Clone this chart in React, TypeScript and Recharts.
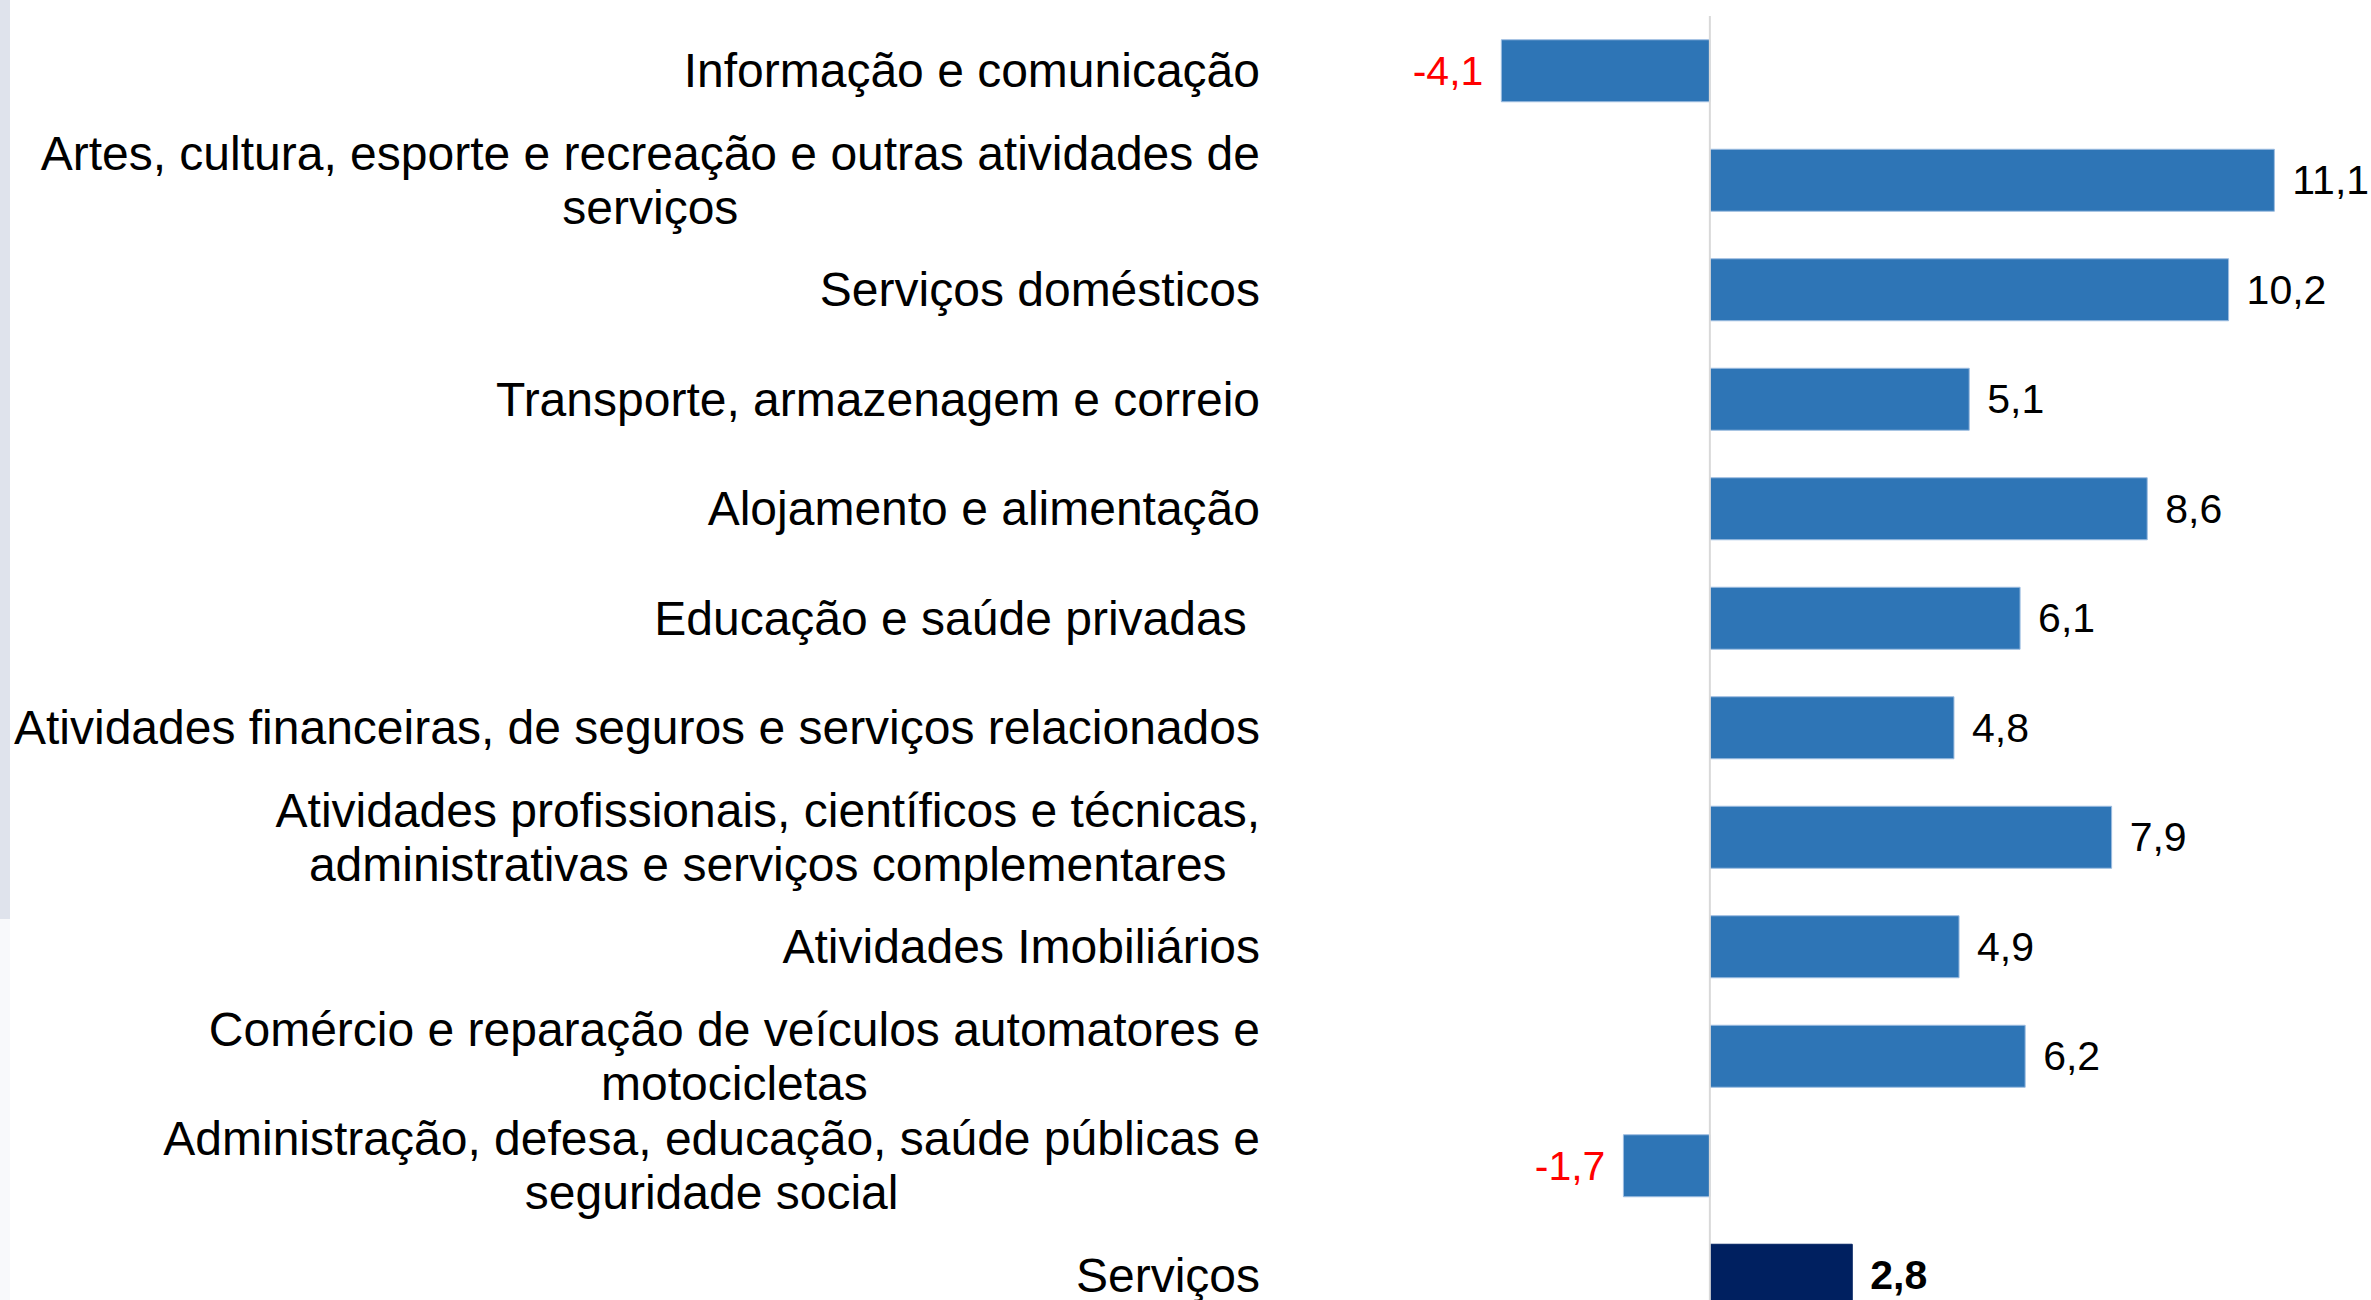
import React from "react";
import { BarChart, Bar, XAxis, YAxis, Cell, LabelList, ReferenceLine } from "recharts";

const categories = [
  "Informação e comunicação",
  "Artes, cultura, esporte e recreação e outras atividades de\nserviços",
  "Serviços domésticos",
  "Transporte, armazenagem e correio",
  "Alojamento e alimentação",
  "Educação e saúde privadas ",
  "Atividades financeiras, de seguros e serviços relacionados",
  "Atividades profissionais, científicos e técnicas,\nadministrativas e serviços complementares",
  "Atividades Imobiliários",
  "Comércio e reparação de veículos automatores e\nmotocicletas",
  "Administração, defesa, educação, saúde públicas e\nseguridade social",
  "Serviços",
];
const values = [-4.1, 11.1, 10.2, 5.1, 8.6, 6.1, 4.8, 7.9, 4.9, 6.2, -1.7, 2.8];
const totalName = "Serviços";

const data = categories.map((name, i) => ({ name, value: values[i] }));

const FONT = "'Liberation Sans', Arial, sans-serif";
const BLUE = "#2E75B6";
const NAVY = "#002060";

let ctx: CanvasRenderingContext2D | null = null;
function measure(text: string, size: number) {
  if (!ctx) ctx = document.createElement("canvas").getContext("2d");
  if (!ctx) return text.length * size * 0.5;
  ctx.font = `${size}px ${FONT}`;
  return ctx.measureText(text).width;
}

function CategoryTick(props: any) {
  const { x, y, payload } = props;
  const lines: string[] = String(payload.value).split("\n");
  const size = 48;
  const lh = 54;
  const maxW = Math.max(...lines.map((l) => measure(l, size)));
  const cx = x - maxW / 2;
  return (
    <g>
      {lines.map((l, i) => (
        <text
          key={i}
          x={cx}
          y={y + (i - (lines.length - 1) / 2) * lh}
          textAnchor="middle"
          dominantBaseline="central"
          fontFamily={FONT}
          fontSize={size}
          fill="#000"
          style={{ whiteSpace: "pre" }}
        >
          {l}
        </text>
      ))}
    </g>
  );
}

function ValueLabel(props: any) {
  const { x, y, width, height, value, index } = props;
  const left = Math.min(x, x + width);
  const right = Math.max(x, x + width);
  const neg = value < 0;
  const isTotal = categories[index] === totalName;
  return (
    <text
      x={neg ? left - 18 : right + 18}
      y={y + height / 2}
      textAnchor={neg ? "end" : "start"}
      dominantBaseline="central"
      fontFamily={FONT}
      fontSize={41}
      fontWeight={isTotal ? "bold" : "normal"}
      fill={neg ? "#FF0000" : "#000"}
    >
      {Number(value).toFixed(1).replace(".", ",")}
    </text>
  );
}

export default function App() {
  return (
    <div
      style={{
        position: "fixed",
        left: 0,
        top: 0,
        width: 2371,
        height: 1300,
        overflow: "hidden",
        background: "#fff",
      }}
    >
      <div style={{ position: "absolute", left: 0, top: 0, width: 10, height: 919, background: "#dfe3ec" }} />
      <div style={{ position: "absolute", left: 0, top: 919, width: 10, height: 381, background: "#f8f9fb" }} />
      <BarChart
        width={2371}
        height={1330}
        data={data}
        layout="vertical"
        margin={{ top: 16, right: 0, bottom: 0, left: 0 }}
        barCategoryGap="21.7%"
      >
        <XAxis type="number" domain={[-8, 13]} hide />
        <YAxis
          type="category"
          dataKey="name"
          width={1303}
          axisLine={false}
          tickLine={false}
          tickSize={0}
          tickMargin={43}
          interval={0}
          tick={<CategoryTick />}
        />
        <ReferenceLine x={0} stroke="#d9d9d9" strokeWidth={2} />
        <Bar dataKey="value" isAnimationActive={false}>
          {data.map((d, i) => (
            <Cell
              key={i}
              fill={d.name === totalName ? NAVY : BLUE}
              stroke={d.name === totalName ? NAVY : "#9dbde0"}
              strokeWidth={1}
            />
          ))}
          <LabelList dataKey="value" content={<ValueLabel />} />
        </Bar>
      </BarChart>
    </div>
  );
}
